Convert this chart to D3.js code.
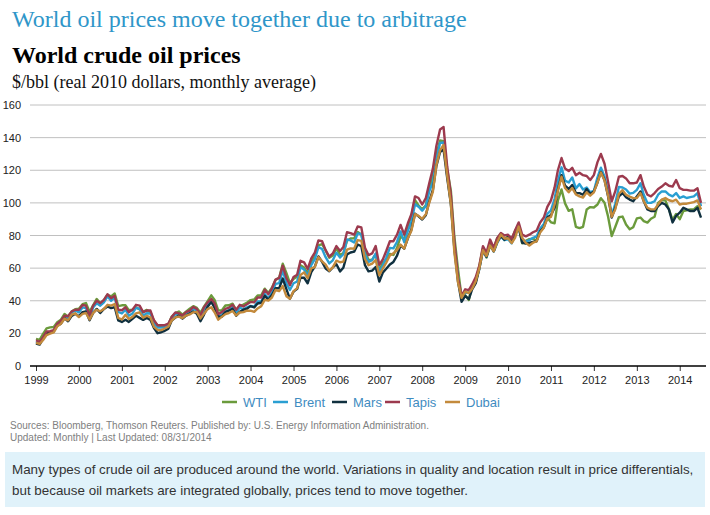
<!DOCTYPE html>
<html>
<head>
<meta charset="utf-8">
<script src="https://cdn.jsdelivr.net/npm/d3@7"></script>
<style>
  body { margin: 0; background: #fff; }
  .axis text { font-family: "Liberation Sans", Arial, sans-serif; font-size: 11px; fill: #222; }
</style>
</head>
<body>
<div id="chart"></div>
<script>
// monthly, Jan 1999 .. Jul 2014, $/bbl real 2010 dollars
var startYear = 1999;
var seriesNames = ["WTI", "Brent", "Mars", "Tapis", "Dubai"];
var seriesColors = ["#6b9b3c", "#2a9fd2", "#10303f", "#9c3a4e", "#c38a3c"];
var yTicks = [0, 20, 40, 60, 80, 100, 120, 140, 160];
var yearTicks = d3.range(1999, 2015);

var wti = [
  16.6, 16.0, 19.6, 23.1, 23.7, 23.9, 26.8, 28.4, 31.9, 30.2, 33.4, 34.8,
  35.1, 37.9, 38.6, 33.2, 37.2, 41.1, 38.4, 40.3, 43.7, 42.7, 44.4, 36.7,
  37.2, 37.2, 34.2, 34.5, 36.0, 34.7, 33.2, 34.4, 32.9, 27.8, 24.7, 24.4,
  24.4, 25.6, 30.3, 32.4, 33.4, 31.5, 33.3, 35.1, 36.7, 35.6, 32.6, 36.4,
  39.8, 43.3, 40.5, 34.1, 34.0, 37.1, 37.2, 38.2, 34.2, 36.7, 37.6, 38.8,
  40.4, 40.8, 43.2, 43.3, 47.4, 44.8, 48.0, 52.8, 54.1, 62.7, 57.0, 50.8,
  53.4, 54.8, 61.7, 60.3, 56.8, 64.2, 67.2, 74.0, 74.7, 70.9, 66.4, 67.7,
  72.3, 68.0, 69.2, 76.7, 78.2, 78.3, 82.1, 80.6, 70.4, 65.0, 65.2, 68.4,
  58.5, 63.6, 64.9, 68.7, 68.1, 72.4, 79.5, 77.6, 85.8, 92.1, 101.7, 98.4,
  96.0, 98.5, 108.9, 116.3, 129.5, 138.3, 137.8, 120.5, 107.5, 79.1, 59.2, 42.5,
  43.3, 40.5, 49.7, 51.5, 61.2, 72.2, 66.5, 73.7, 72.0, 78.5, 80.9, 77.2,
  79.9, 77.9, 82.8, 86.0, 75.2, 76.8, 77.8, 78.1, 76.7, 83.5, 85.9, 90.9,
  88.1, 87.5, 101.6, 108.2, 99.7, 95.1, 96.1, 85.3, 84.5, 85.3, 96.0, 97.4,
  97.2, 99.0, 102.9, 100.1, 91.7, 79.7, 85.2, 91.2, 91.6, 86.7, 83.8, 85.1,
  90.5, 91.0, 88.8, 87.9, 90.3, 91.5, 100.0, 101.8, 101.5, 96.0, 89.6, 93.2,
  90.0, 95.0, 95.5, 96.0, 96.0, 98.0, 96.0
];

var brent = [
  14.8, 13.7, 16.7, 20.4, 20.3, 21.2, 25.5, 27.1, 30.1, 29.4, 32.8, 34.0,
  32.9, 35.9, 35.5, 29.4, 35.8, 38.5, 37.0, 39.0, 42.8, 40.0, 42.0, 33.1,
  32.2, 34.5, 30.8, 32.2, 35.6, 35.0, 30.9, 32.3, 32.2, 25.8, 23.6, 23.5,
  24.0, 25.1, 29.3, 31.8, 31.3, 29.8, 31.8, 32.9, 35.1, 34.0, 30.1, 35.0,
  37.7, 39.6, 37.0, 30.2, 31.3, 33.4, 34.3, 36.1, 32.8, 35.8, 34.8, 36.0,
  36.8, 36.3, 39.6, 39.5, 44.2, 41.4, 45.0, 50.3, 50.8, 58.6, 50.7, 46.6,
  50.7, 51.8, 60.5, 59.1, 55.4, 61.9, 65.5, 72.9, 71.7, 66.7, 62.9, 64.8,
  69.5, 66.5, 68.5, 77.6, 77.0, 75.7, 81.3, 80.8, 68.4, 63.8, 64.9, 69.0,
  57.6, 61.8, 66.6, 72.4, 72.1, 76.2, 82.5, 75.9, 82.8, 88.4, 99.2, 97.6,
  95.2, 98.1, 107.1, 112.7, 126.9, 136.7, 137.1, 117.0, 100.4, 73.9, 54.2, 41.3,
  45.0, 44.9, 48.3, 52.0, 59.4, 71.1, 66.8, 75.2, 70.2, 75.5, 79.5, 77.2,
  77.7, 75.2, 80.4, 86.5, 77.5, 76.3, 77.1, 78.6, 79.4, 84.3, 87.0, 93.3,
  95.4, 102.5, 113.3, 121.8, 113.6, 112.5, 115.6, 108.9, 111.5, 108.2, 109.4, 106.6,
  107.3, 115.6, 121.6, 116.0, 106.9, 92.2, 99.4, 109.8, 109.4, 108.2, 105.7, 106.1,
  108.0, 112.0, 105.0, 100.0, 100.0, 101.0, 105.0, 107.0, 107.0, 105.0, 104.0, 106.0,
  103.0, 104.0, 103.0, 103.5, 104.0, 106.0, 98.0
];

var mars = [
  13.8, 13.1, 16.7, 20.0, 20.7, 21.4, 24.7, 26.0, 29.4, 27.4, 30.7, 32.0,
  30.5, 33.0, 33.5, 28.0, 32.5, 35.0, 32.5, 35.0, 36.5, 35.5, 36.0, 28.0,
  27.0, 28.3, 27.0, 28.9, 30.8, 29.5, 28.3, 29.5, 28.3, 23.2, 20.1, 20.7,
  21.6, 22.9, 27.8, 29.7, 30.9, 29.0, 30.9, 32.1, 33.4, 32.1, 27.5, 31.5,
  36.3, 39.3, 35.7, 30.2, 30.2, 33.2, 33.9, 35.1, 30.8, 33.2, 34.5, 35.1,
  36.7, 35.9, 38.3, 38.8, 43.0, 40.6, 43.5, 47.7, 47.7, 53.6, 47.1, 41.2,
  45.6, 47.3, 54.1, 54.1, 50.7, 57.5, 60.9, 67.2, 63.8, 59.8, 58.1, 60.4,
  62.4, 58.0, 60.2, 68.4, 69.6, 70.1, 74.5, 73.4, 61.8, 58.0, 58.5, 60.7,
  51.8, 57.4, 59.6, 62.2, 63.8, 67.6, 74.0, 71.9, 78.3, 83.7, 93.4, 91.7,
  89.8, 92.4, 100.8, 108.0, 122.7, 131.2, 132.7, 115.2, 99.5, 71.7, 51.7, 39.3,
  43.0, 41.0, 47.0, 50.8, 59.7, 70.9, 67.0, 74.2, 70.3, 76.2, 79.6, 77.4,
  79.0, 76.0, 81.0, 85.0, 75.5, 75.0, 75.5, 76.0, 76.5, 82.5, 85.0, 91.0,
  92.5, 97.0, 108.0, 117.0, 110.5, 108.5, 111.0, 106.0, 106.0, 105.0, 108.5, 105.5,
  107.0, 112.5, 119.0, 114.0, 104.0, 91.0, 97.0, 104.0, 106.0, 103.5, 102.0, 101.0,
  104.0, 107.0, 101.0, 96.0, 95.0, 95.0, 98.0, 100.0, 99.0, 96.0, 88.0, 92.0,
  94.0, 97.0, 96.0, 95.0, 95.0, 97.0, 91.0
];

var tapis = [
  15.8, 14.7, 17.5, 21.2, 21.3, 22.0, 26.0, 27.8, 30.8, 30.5, 33.5, 34.5,
  34.4, 37.4, 37.0, 31.0, 37.0, 40.0, 38.5, 40.5, 44.0, 41.5, 43.0, 34.5,
  34.2, 36.0, 33.0, 34.5, 37.5, 37.0, 33.0, 34.0, 34.0, 28.0, 25.0, 25.0,
  25.0, 26.0, 30.0, 32.8, 32.3, 31.0, 33.0, 34.0, 36.2, 35.0, 31.0, 36.0,
  39.0, 41.0, 38.5, 31.8, 33.0, 35.0, 35.8, 37.5, 34.5, 37.5, 36.5, 37.8,
  39.3, 39.0, 42.0, 42.0, 46.8, 44.0, 47.5, 53.0, 54.0, 61.5, 54.0, 49.5,
  54.5, 56.0, 64.5, 63.5, 59.5, 66.0, 69.5, 77.0, 76.5, 71.0, 67.0, 69.0,
  73.5, 70.5, 73.0, 82.0, 81.5, 80.5, 85.5, 85.0, 72.5, 68.0, 69.0, 73.5,
  62.0, 65.5, 70.5, 76.5, 76.5, 80.5, 86.5, 80.5, 87.5, 93.0, 104.0, 103.0,
  99.0, 103.0, 112.0, 121.0, 135.0, 145.0, 146.5, 122.0, 105.0, 76.0, 54.0, 43.0,
  47.0, 46.5, 50.0, 54.5, 61.5, 73.5, 69.5, 77.5, 72.5, 78.5, 81.5, 80.0,
  80.5, 78.0, 83.0, 88.0, 80.5, 79.5, 80.5, 82.0, 83.0, 88.0, 91.0, 97.5,
  101.5, 109.5, 120.0, 127.5, 121.0, 119.5, 121.5, 117.0, 118.5, 117.0, 116.5, 114.0,
  117.0, 125.0, 130.0, 124.0, 113.0, 101.0, 107.0, 116.0, 116.5, 115.0, 112.0, 112.0,
  112.5, 117.0, 110.0, 105.0, 104.0, 106.0, 108.5, 110.0, 112.0, 110.5, 110.0, 114.0,
  109.0, 108.0, 108.0, 107.5, 107.5, 109.0, 100.0
];

var dubai = [
  14.2, 13.5, 15.8, 19.0, 19.8, 20.6, 24.3, 25.9, 29.0, 28.0, 31.5, 32.3,
  30.0, 32.0, 32.5, 28.5, 32.5, 34.5, 33.5, 35.0, 37.5, 37.0, 38.0, 29.5,
  28.5, 31.4, 28.8, 30.1, 32.2, 32.9, 29.6, 30.8, 29.8, 24.0, 22.1, 22.0,
  23.0, 24.1, 27.9, 29.8, 30.3, 29.4, 30.9, 31.6, 32.9, 33.2, 29.2, 32.1,
  34.9, 36.0, 32.9, 28.4, 30.1, 31.8, 32.5, 33.7, 31.0, 32.8, 33.0, 33.9,
  33.9, 33.2, 35.3, 36.7, 40.5, 40.1, 42.0, 46.6, 45.9, 49.0, 42.8, 41.2,
  45.9, 47.7, 55.8, 57.4, 53.8, 59.8, 60.6, 66.7, 64.2, 62.2, 58.4, 60.5,
  64.6, 63.6, 64.0, 71.3, 72.1, 71.9, 77.2, 76.7, 65.6, 61.8, 62.8, 65.0,
  55.6, 59.9, 63.3, 67.7, 69.1, 71.1, 74.4, 72.0, 78.4, 82.9, 93.1, 92.0,
  90.2, 93.0, 100.0, 106.9, 123.3, 132.2, 135.5, 116.6, 99.2, 69.5, 51.2, 41.8,
  45.6, 44.7, 47.3, 52.0, 59.7, 71.0, 67.4, 74.0, 70.3, 75.9, 80.6, 78.2,
  78.3, 75.4, 78.6, 85.5, 78.6, 75.5, 73.9, 75.6, 76.4, 81.9, 84.8, 90.4,
  91.4, 99.1, 107.4, 116.0, 109.1, 106.5, 109.1, 105.2, 104.0, 103.3, 106.5, 104.4,
  106.5, 112.6, 118.7, 113.7, 104.5, 91.5, 95.9, 105.6, 107.8, 105.0, 103.8, 102.9,
  103.0, 106.0, 101.0, 97.0, 96.0, 96.0, 99.0, 102.0, 103.0, 101.6, 101.0, 102.0,
  99.0, 99.5, 99.5, 100.0, 100.5, 101.5, 96.0
];

var allSeries = [wti, brent, mars, tapis, dubai];

var w = 710;
var h = 515;

var svg = d3.select("#chart")
            .append("svg")
            .attr("width", w)
            .attr("height", h);

// headings
svg.append("text")
   .attr("x", 12).attr("y", 27)
   .style("font-family", "'Liberation Serif', 'Times New Roman', serif")
   .style("font-size", "24px")
   .attr("fill", "#2f96c9")
   .text("World oil prices move together due to arbitrage");

svg.append("text")
   .attr("x", 12).attr("y", 63)
   .style("font-family", "'Liberation Serif', 'Times New Roman', serif")
   .style("font-size", "24px")
   .style("font-weight", "bold")
   .attr("fill", "#000")
   .text("World crude oil prices");

svg.append("text")
   .attr("x", 12).attr("y", 88)
   .style("font-family", "'Liberation Serif', 'Times New Roman', serif")
   .style("font-size", "18px")
   .attr("fill", "#111")
   .text("$/bbl (real 2010 dollars, monthly average)");

var monthDate = function(i) { return new Date(startYear, i, 1); };

var x = d3.scaleTime()
          .domain([new Date(1999, 0, 1), new Date(2014, 6, 1)])
          .range([36, 701]);

var y = d3.scaleLinear()
          .domain([0, 160])
          .range([366, 105]);

// gridlines
svg.append("g")
   .selectAll("line")
   .data(yTicks.filter(function(d) { return d > 0; }))
   .enter()
   .append("line")
   .attr("x1", 30).attr("x2", 706)
   .attr("y1", function(d) { return y(d); })
   .attr("y2", function(d) { return y(d); })
   .attr("stroke", "#c0c0c0")
   .attr("stroke-width", 1);

// y labels
svg.append("g")
   .attr("class", "axis")
   .selectAll("text")
   .data(yTicks)
   .enter()
   .append("text")
   .attr("x", 21)
   .attr("y", function(d) { return y(d) + 4; })
   .attr("text-anchor", "end")
   .text(function(d) { return d; });

// x axis
var xAxis = d3.axisBottom(x)
              .tickValues(yearTicks.map(function(yr) { return new Date(yr, 0, 1); }))
              .tickFormat(d3.timeFormat("%Y"))
              .tickSizeOuter(0)
              .tickSize(5)
              .tickPadding(5);

var gx = svg.append("g")
            .attr("class", "axis")
            .attr("transform", "translate(0," + y(0) + ")")
            .call(xAxis);
gx.select(".domain").remove();
gx.selectAll(".tick line").attr("stroke", "#333");
gx.append("line")
  .attr("x1", 30).attr("x2", 706)
  .attr("stroke", "#000").attr("stroke-width", 1.5);

// the five lines
var line = d3.line()
             .x(function(d, i) { return x(monthDate(i)); })
             .y(function(d) { return y(d); });

svg.append("g")
   .selectAll("path")
   .data(allSeries)
   .enter()
   .append("path")
   .attr("d", line)
   .attr("fill", "none")
   .attr("stroke", function(d, i) { return seriesColors[i]; })
   .attr("stroke-width", 2.4)
   .attr("stroke-linejoin", "round");

// legend
var legendX = [222, 273, 332, 385, 445];
var legend = svg.append("g")
                .selectAll("g")
                .data(seriesNames)
                .enter()
                .append("g")
                .attr("transform", function(d, i) { return "translate(" + legendX[i] + ",402)"; });

legend.append("line")
      .attr("x1", 0).attr("x2", 15)
      .attr("stroke", function(d, i) { return seriesColors[i]; })
      .attr("stroke-width", 2.5);

legend.append("text")
      .attr("x", 21).attr("y", 5)
      .style("font-family", "'Liberation Sans', Arial, sans-serif")
      .style("font-size", "13px")
      .attr("fill", "#3f8cc1")
      .text(function(d) { return d; });

// sources
var src = svg.append("g")
             .style("font-family", "'Liberation Sans', Arial, sans-serif")
             .style("font-size", "10px")
             .attr("fill", "#808080");
src.append("text").attr("x", 10).attr("y", 429)
   .text("Sources: Bloomberg, Thomson Reuters. Published by: U.S. Energy Information Administration.");
src.append("text").attr("x", 10).attr("y", 441)
   .text("Updated: Monthly | Last Updated: 08/31/2014");

// note box
svg.append("rect")
   .attr("x", 5).attr("y", 452)
   .attr("width", 700).attr("height", 55)
   .attr("fill", "#e0f2fa");

var note = svg.append("g")
              .style("font-family", "'Liberation Sans', Arial, sans-serif")
              .style("font-size", "13.4px")
              .attr("fill", "#333");
note.append("text").attr("x", 12).attr("y", 474)
    .text("Many types of crude oil are produced around the world. Variations in quality and location result in price differentials,");
note.append("text").attr("x", 12).attr("y", 495)
    .text("but because oil markets are integrated globally, prices tend to move together.");
</script>
</body>
</html>
